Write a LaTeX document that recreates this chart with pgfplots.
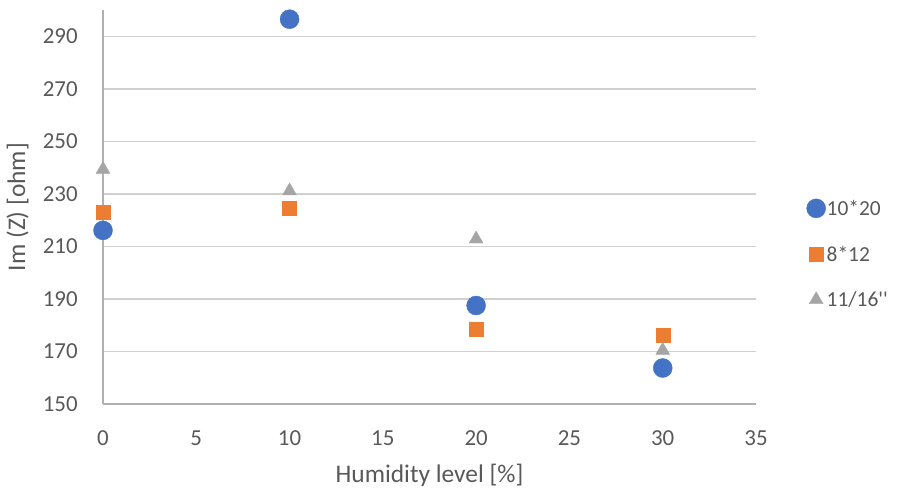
\documentclass[border=0pt]{standalone}
\usepackage{fontspec}
\setmainfont{Carlito}
\usepackage{pgfplots}
\pgfplotsset{compat=1.18}
\definecolor{xblue}{HTML}{4472C4}
\definecolor{xorange}{HTML}{ED7D31}
\definecolor{xgray}{HTML}{A5A5A5}
\definecolor{xtext}{HTML}{595959}
\definecolor{xgrid}{HTML}{D0D0D0}
\definecolor{xaxis}{HTML}{B0B0B0}
\begin{document}
\begin{tikzpicture}
\path[use as bounding box] (0,0) rectangle (897bp,488bp);
\begin{axis}[
  at={(103bp,84bp)}, anchor=south west,
  scale only axis, width=653bp, height=394bp,
  xmin=0, xmax=35, ymin=150, ymax=300,
  xtick={0,5,...,35}, ytick={150,170,...,290},
  axis x line=bottom, axis y line=left,
  axis line style={draw=xaxis, line width=1.5bp, -},
  ymajorgrids, major grid style={draw=xgrid, line width=1.5bp},
  tick style={draw=none},
  clip=false,
  /pgf/number format/assume math mode=true,
  tick label style={font=\fontsize{23}{27}\selectfont, text=xtext, inner sep=0pt},
  yticklabel style={anchor=east, xshift=-23bp},
  xticklabel style={anchor=north, yshift=-24bp},
  xlabel={Humidity level [\%]},
  ylabel={Im (Z) [ohm]},
  label style={font=\fontsize{25.5}{30}\selectfont, text=xtext, inner sep=0pt},
  xlabel style={at={(axis description cs:0.5,0)}, anchor=base, yshift=-78bp},
  ylabel style={at={(axis description cs:-0.1194,0.5)}, anchor=base},
  legend style={at={(axis description cs:1.0773,0.381)}, anchor=west, draw=none, fill=none,
    inner sep=0pt, row sep=27bp, font=\fontsize{21.5}{25}\selectfont, text=xtext,
    nodes={inner sep=1bp}},
  legend cell align=left,
  legend image code/.code={\draw[#1] plot coordinates {(0bp,0bp)};},
]
\addplot[only marks, mark=*, mark size=9.5bp, color=xblue, mark options={draw=xblue, fill=xblue}]
  coordinates {(0,216.1) (10,296.5) (20,187.5) (30,163.7)};
\addlegendentry{10*20}
\addplot[only marks, mark=square*, mark size=7bp, color=xorange, mark options={draw=xorange, fill=xorange}]
  coordinates {(0,222.9) (10,224.4) (20,178.6) (30,176.3)};
\addlegendentry{8*12}
\addplot[only marks, mark=triangle*, mark size=8bp, color=xgray, mark options={draw=xgray, fill=xgray}]
  coordinates {(0,239.3) (10,231.1) (20,212.8) (30,170.4)};
\addlegendentry{11/16\textquotesingle\textquotesingle}
\end{axis}
\end{tikzpicture}
\end{document}
